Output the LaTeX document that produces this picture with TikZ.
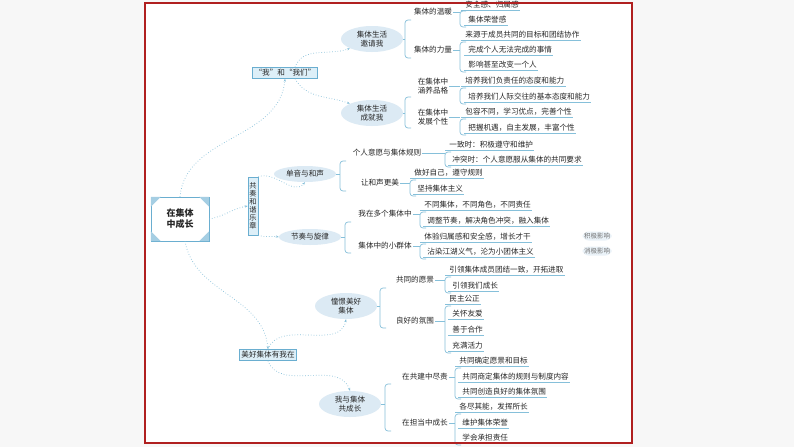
\documentclass[tikz,border=0pt]{standalone}
\usepackage{fontspec}
\newfontfamily\cjk{Noto Sans CJK SC}
\usetikzlibrary{arrows.meta,shapes.geometric}
\definecolor{ln}{HTML}{86C0DA}
\definecolor{ell}{HTML}{DCEAF4}
\definecolor{bxf}{HTML}{DDEFF8}
\definecolor{bxd}{HTML}{6AAED0}
\definecolor{frm}{HTML}{B02020}
\tikzset{
 every node/.style={font=\cjk\fontsize{7.6}{8.6}\selectfont, text=black!85},
 leaf/.style={anchor=west, inner sep=1.2pt},
 mid/.style={align=center, inner sep=1pt},
 elp/.style={ellipse, fill=ell, align=center, inner sep=0pt, minimum width=62pt, minimum height=26pt},
 boxn/.style={draw=bxd, fill=bxf, inner sep=2pt},
 br/.style={draw=ln, line width=0.7pt},
 ul/.style={draw=ln, line width=0.7pt},
 arr/.style={draw=ln, line width=0.7pt, dotted, -{Stealth[length=3pt]}},
 tag/.style={fill=ell!60, rounded corners=6pt, inner sep=1.5pt, text=black!55, font=\cjk\fontsize{6.5}{7.5}\selectfont},
}
\newcommand\brk[4]{\draw[br] (#1.east) -- (#1.east -| #2,0);
 \draw[br,rounded corners=3pt] ({#2+6},#3) -- (#2,#3) -- (#2,#4) -- ({#2+6},#4);}
\newcommand\lf[4]{\node[leaf] (#1) at (#2,#3) {#4}; \draw[ul] ([xshift=-3pt]#1.south west) -- (#1.south east);}
\begin{document}
\begin{tikzpicture}[x=1pt,y=-1pt]
\useasboundingbox (0,0) rectangle (794,447);
\fill[black!3] (0,0) rectangle (794,447);
\fill[white] (145,3) rectangle (632,443);
% root
\node[draw=bxd, fill=white, minimum width=58pt, minimum height=44pt, align=center, font=\cjk\bfseries\fontsize{9}{11}\selectfont] (root) at (180,219) {在集体\\中成长};
\fill[bxd!60] (root.north west) -- ++(10,0) -- ++(-10,10) -- cycle;
\fill[bxd!60] (root.north east) -- ++(-10,0) -- ++(10,10) -- cycle;
\fill[bxd!60] (root.south west) -- ++(10,0) -- ++(-10,-10) -- cycle;
\fill[bxd!60] (root.south east) -- ++(-10,0) -- ++(10,-10) -- cycle;
% level 1
\node[boxn] (wo) at (285,73) {“我”和“我们”};
\node[boxn, align=center, inner sep=1.5pt, minimum height=58pt, font=\cjk\fontsize{7.2}{8}\selectfont] (gz) at (253,206) {共\\奏\\和\\谐\\乐\\章};
\node[boxn] (mh) at (268,355) {美好集体有我在};
\draw[arr] (root.north) to[out=85,in=-95] (wo.south);
\draw[arr] (root.east) to[out=10,in=190] (gz.west);
\draw[arr] ([xshift=5pt]root.south) to[out=-80,in=95] (mh.north);
% level 2
\node[elp] (yq) at (372,39) {集体生活\\邀请我};
\node[elp] (cj) at (372,113) {集体生活\\成就我};
\node[elp, minimum height=16pt] (dy) at (305,174) {单音与和声};
\node[elp, minimum height=16pt] (jz) at (310,237) {节奏与旋律};
\node[elp] (cc) at (346,306) {憧憬美好\\集体};
\node[elp] (gc) at (350,404) {我与集体\\共成长};
\draw[arr] ([xshift=10pt]wo.north) to[out=70,in=200] (yq.south west);
\draw[arr] ([xshift=10pt]wo.south) to[out=-60,in=160] (cj.north west);
\draw[arr] (gz.north east) to[out=20,in=230] (dy.south);
\draw[arr] (gz.south east) to[out=-20,in=170] (jz.west);
\draw[arr] (mh.north) to[out=70,in=260] (cc.south);
\draw[arr] (mh.south) to[out=-70,in=110] (gc.north);
% level 3
\node[mid] (m1) at (433,12) {集体的温暖};
\node[mid] (m2) at (433,50) {集体的力量};
\node[mid] (m3) at (433,86) {在集体中\\涵养品格};
\node[mid] (m4) at (433,117) {在集体中\\发展个性};
\node[mid] (m5) at (387,153) {个人意愿与集体规则};
\node[mid] (m6) at (380,183) {让和声更美};
\node[mid] (m7) at (385,214) {我在多个集体中};
\node[mid] (m8) at (385,246) {集体中的小群体};
\node[mid] (m9) at (415,280) {共同的愿景};
\node[mid] (m10) at (415,321) {良好的氛围};
\node[mid] (m11) at (425,377) {在共建中尽责};
\node[mid] (m12) at (425,423) {在担当中成长};
\brk{yq}{405}{20}{58}
\brk{cj}{405}{97}{128}
\brk{dy}{340}{161}{191}
\brk{jz}{345}{222}{253}
\brk{cc}{380}{288}{328}
\brk{gc}{385}{384}{431}
% leaves
\lf{a1}{464}{5}{安全感、归属感}
\lf{a2}{467}{20}{集体荣誉感}
\brk{m1}{460}{11}{27}
\lf{b1}{464}{35}{来源于成员共同的目标和团结协作}
\lf{b2}{467}{50}{完成个人无法完成的事情}
\lf{b3}{467}{65}{影响甚至改变一个人}
\brk{m2}{460}{42}{72}
\lf{c1}{464}{81}{培养我们负责任的态度和能力}
\lf{c2}{467}{97}{培养我们人际交往的基本态度和能力}
\brk{m3}{460}{88}{104}
\lf{d1}{464}{112}{包容不同，学习优点，完善个性}
\lf{d2}{467}{128}{把握机遇，自主发展，丰富个性}
\brk{m4}{460}{119}{135}
\lf{e1}{448}{145}{一致时：积极遵守和维护}
\lf{e2}{451}{160}{冲突时：个人意愿服从集体的共同要求}
\brk{m5}{445}{152}{167}
\lf{f1}{413}{173}{做好自己，遵守规则}
\lf{f2}{416}{189}{坚持集体主义}
\brk{m6}{410}{180}{196}
\lf{g1}{423}{205}{不同集体，不同角色，不同责任}
\lf{g2}{426}{221}{调整节奏，解决角色冲突，融入集体}
\brk{m7}{420}{212}{228}
\lf{h1}{423}{237}{体验归属感和安全感，增长才干}
\lf{h2}{426}{252}{沾染江湖义气，沦为小团体主义}
\brk{m8}{420}{244}{259}
\node[tag] (t1) at (597,236) {积极影响};
\node[tag] (t2) at (597,251) {消极影响};
\lf{i1}{448}{270}{引领集体成员团结一致，开拓进取}
\lf{i2}{451}{286}{引领我们成长}
\brk{m9}{445}{277}{293}
\lf{j1}{448}{299}{民主公正}
\lf{j2}{451}{314}{关怀友爱}
\lf{j3}{451}{330}{善于合作}
\lf{j4}{451}{346}{充满活力}
\brk{m10}{445}{306}{353}
\lf{k1}{458}{361}{共同确定愿景和目标}
\lf{k2}{461}{377}{共同商定集体的规则与制度内容}
\lf{k3}{461}{392}{共同创造良好的集体氛围}
\brk{m11}{455}{368}{399}
\lf{l1}{458}{407}{各尽其能，发挥所长}
\lf{l2}{461}{423}{维护集体荣誉}
\lf{l3}{461}{438}{学会承担责任}
\brk{m12}{455}{414}{445}
\draw[frm, line width=1.2pt] (145,3) rectangle (632,443);
\end{tikzpicture}
\end{document}
